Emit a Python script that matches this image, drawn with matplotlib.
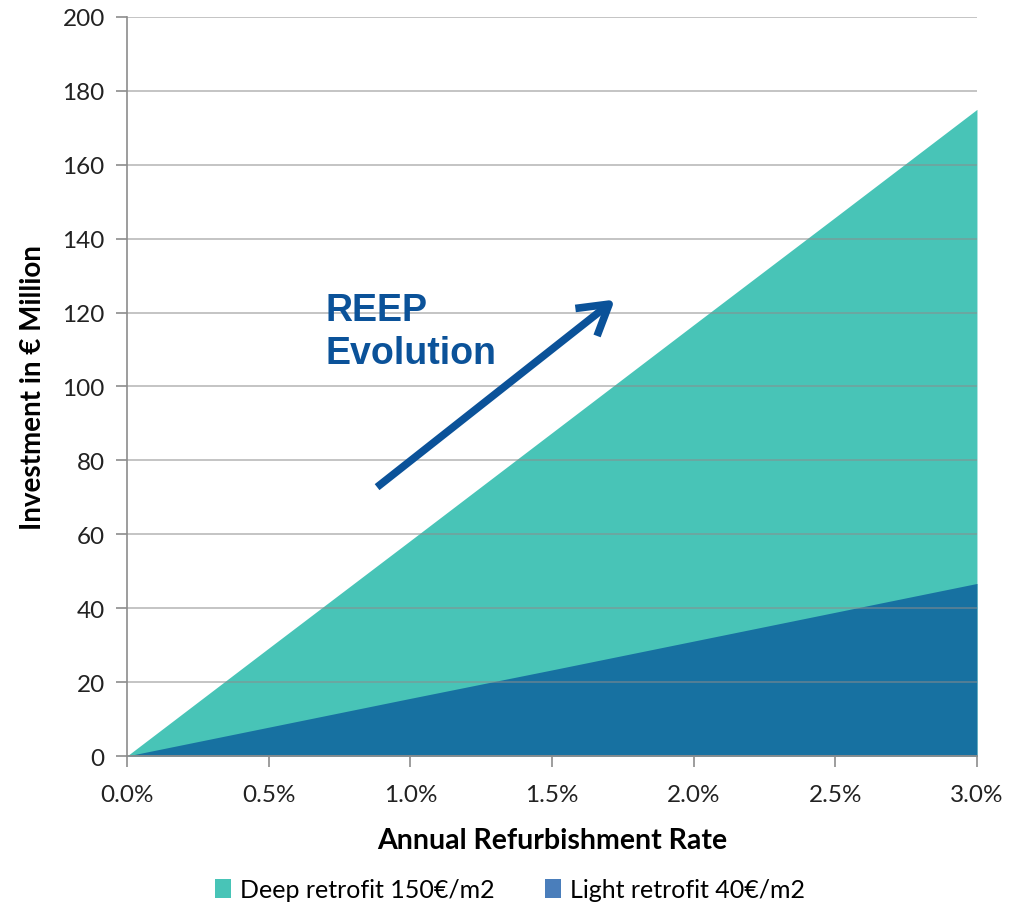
import matplotlib

matplotlib.use("Agg")
import matplotlib.pyplot as plt
from matplotlib.patches import Patch
from matplotlib.ticker import FuncFormatter, MultipleLocator

# --- dati ---
rate = [0.0, 0.5, 1.0, 1.5, 2.0, 2.5, 3.0]  # % annuo
deep = [0.0, 29.2, 58.3, 87.5, 116.7, 145.8, 175.0]  # € milioni
light = [0.0, 7.8, 15.6, 23.3, 31.1, 38.9, 46.7]  # € milioni

series_labels = ["Deep retrofit 150€/m2", "Light retrofit 40€/m2"]

# --- colori ---
C_DEEP = "#48C4B7"
C_LIGHT = "#1771A1"
C_LIGHT_LEG = "#4A7EBB"
C_ARROW = "#0B5299"
C_GRID = "#8C8C8C"

plt.rcParams["font.family"] = ["Lato", "DejaVu Sans"]

fig = plt.figure(figsize=(10.2, 9.04), dpi=100)
ax = fig.add_axes([0.1245, 0.1626, 0.8333, 0.8175])

# --- aree ---
ax.fill_between(rate, 0, deep, color=C_DEEP, linewidth=0, zorder=1)
ax.fill_between(rate, 0, light, color=C_LIGHT, linewidth=0, zorder=2)

# --- assi ---
ax.set_xlim(0, 3.0)
ax.set_ylim(0, 200)
ax.xaxis.set_major_locator(MultipleLocator(0.5))
ax.yaxis.set_major_locator(MultipleLocator(20))
ax.xaxis.set_major_formatter(FuncFormatter(lambda v, p: f"{v:.1f}%"))

ax.grid(True, axis="y", color=C_GRID, linewidth=1.2, alpha=0.6, zorder=3)
ax.set_axisbelow(False)
for s in ["top", "right"]:
    ax.spines[s].set_visible(False)
for s in ["left", "bottom"]:
    ax.spines[s].set_color(C_GRID)
    ax.spines[s].set_linewidth(1.2)
    ax.spines[s].set_zorder(4)

ax.tick_params(axis="both", colors=C_GRID, length=8, width=1.2, labelsize=17.5,
               labelcolor="#222222")
ax.tick_params(axis="y", pad=8)
ax.tick_params(axis="x", pad=12)

ax.set_xlabel("Annual Refurbishment Rate", fontsize=20.5, fontweight="bold",
              labelpad=16)
ax.set_ylabel("Investment in € Million", fontsize=20, fontweight="bold",
              labelpad=12)

# --- annotazione REEP ---
ax.annotate("", xy=(1.73, 124.0), xytext=(0.875, 72.3),
            arrowprops=dict(arrowstyle="->,head_length=0.75,head_width=0.45",
                            mutation_scale=28, color=C_ARROW, lw=5.5,
                            capstyle="butt", joinstyle="round"),
            zorder=5)
ax.text(0.70, 125.5, "REEP\nEvolution", color=C_ARROW, fontsize=27,
        fontweight="bold", family=["Liberation Sans", "DejaVu Sans"],
        va="top", ha="left", linespacing=1.25, zorder=5)

# --- legenda ---
handles = [Patch(facecolor=C_DEEP, edgecolor="none"),
           Patch(facecolor=C_LIGHT_LEG, edgecolor="none")]
fig.legend(handles, series_labels, loc="center", bbox_to_anchor=(0.5, 0.015),
           ncol=2, frameon=False, fontsize=18, handlelength=0.65,
           handleheight=0.8, handletextpad=0.35, columnspacing=2.0)

fig.savefig("out.png", dpi=100)
